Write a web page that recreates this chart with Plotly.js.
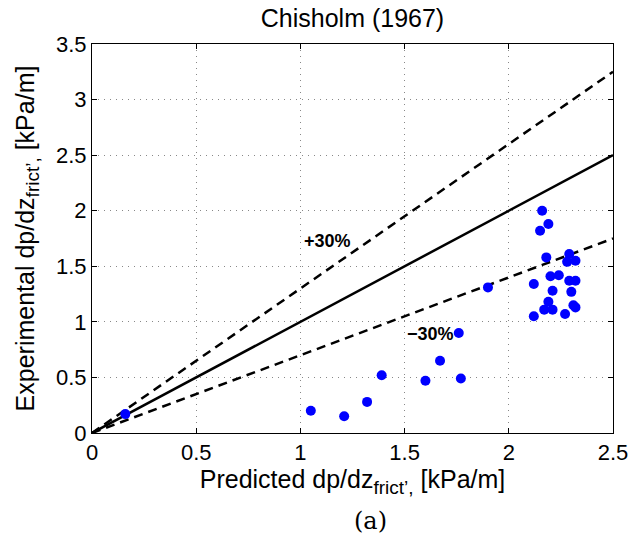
<!DOCTYPE html>
<html>
<head>
<meta charset="utf-8">
<script src="https://cdn.plot.ly/plotly-3.0.1.min.js"></script>
<style>
  html, body { margin: 0; padding: 0; background: #fff; }
  #chart { width: 634px; height: 552px; }
</style>
</head>
<body>
<div id="chart"></div>
<script>
// Predicted vs experimental frictional pressure gradient, kPa/m
const predicted = [0.16, 1.05, 1.21, 1.32, 1.39, 1.60, 1.67, 1.76, 1.77, 1.90,
  2.16, 2.19, 2.15, 2.18, 2.29, 2.28, 2.32, 2.12, 2.20, 2.24, 2.29, 2.32,
  2.21, 2.30, 2.19, 2.17, 2.21, 2.31, 2.32, 2.27, 2.12];
const experimental = [0.17, 0.20, 0.15, 0.28, 0.52, 0.47, 0.65, 0.90, 0.49, 1.31,
  2.00, 1.88, 1.82, 1.58, 1.61, 1.54, 1.55, 1.34, 1.41, 1.42, 1.37, 1.37,
  1.28, 1.27, 1.18, 1.11, 1.11, 1.15, 1.13, 1.07, 1.05];

// Reference lines: perfect agreement and ±30 % band
const lineX = [0, 2.5];
const factors = { exact: 1.0, upper: 1.3, lower: 0.7 };

const font = "'Liberation Sans', Arial, Helvetica, sans-serif";
const subLabel = '<sub><span style="font-size:19px">frict\u2019,</span></sub>';

const traces = [
  { x: lineX, y: lineX.map(v => v * factors.exact), mode: 'lines',
    line: { color: '#000', width: 2.5 }, hoverinfo: 'skip' },
  { x: lineX, y: lineX.map(v => v * factors.upper), mode: 'lines',
    line: { color: '#000', width: 2.5, dash: '9px,6px' }, hoverinfo: 'skip' },
  { x: lineX, y: lineX.map(v => v * factors.lower), mode: 'lines',
    line: { color: '#000', width: 2.5, dash: '9px,6px' }, hoverinfo: 'skip' },
  { x: predicted, y: experimental, mode: 'markers',
    marker: { color: '#0000ff', size: 10 } }
];

const axisCommon = {
  showline: true, linecolor: '#000', linewidth: 1, mirror: 'ticks',
  ticks: 'inside', ticklen: 5, tickcolor: '#000',
  showgrid: true, gridcolor: '#888', griddash: '1px,5px', gridwidth: 1,
  zeroline: false, tickfont: { family: font, size: 22, color: '#000' }
};

const layout = {
  width: 634, height: 552,
  margin: { l: 92, r: 21, t: 44, b: 119 },
  paper_bgcolor: '#fff', plot_bgcolor: '#fff',
  showlegend: false,
  title: { text: 'Chisholm (1967)', font: { family: font, size: 25, color: '#000' },
           x: 0.5, xanchor: 'center', y: 0.967, yanchor: 'middle',
           xref: 'paper' },
  xaxis: Object.assign({}, axisCommon, {
    range: [0, 2.5], dtick: 0.5,
    title: { text: 'Predicted dp/dz' + subLabel + ' [kPa/m]',
             font: { family: font, size: 25, color: '#000' }, standoff: 2 }
  }),
  yaxis: Object.assign({}, axisCommon, {
    range: [0, 3.5], dtick: 0.5,
    title: { text: 'Experimental dp/dz' + subLabel + ' [kPa/m]',
             font: { family: font, size: 25, color: '#000' }, standoff: 14 }
  }),
  annotations: [
    { x: 1.128, y: 1.73, xref: 'x', yref: 'y', text: '<b>+30%</b>', showarrow: false,
      font: { family: font, size: 18, color: '#000' } },
    { x: 1.624, y: 0.895, xref: 'x', yref: 'y', text: '<b>\u221230%</b>', showarrow: false,
      font: { family: font, size: 18, color: '#000' } },
    { x: 0.534, y: -0.227, xref: 'paper', yref: 'paper', yanchor: 'middle',
      text: '(a)', showarrow: false,
      font: { family: "'DejaVu Serif', 'Liberation Serif', serif", size: 24, color: '#000' } }
  ]
};

Plotly.newPlot('chart', traces, layout, { staticPlot: true, displayModeBar: false });
</script>
</body>
</html>
